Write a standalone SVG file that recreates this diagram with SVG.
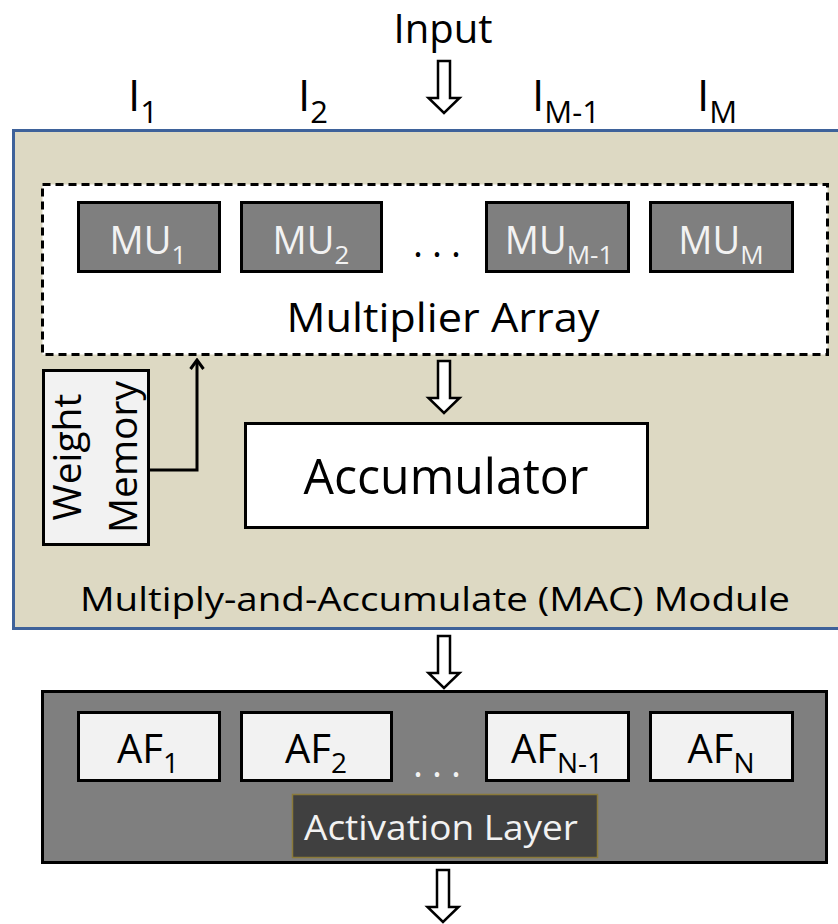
<svg xmlns="http://www.w3.org/2000/svg" width="838" height="924" viewBox="0 0 838 924">
<style>
text{font-family:"Open Sans","Noto Sans","Liberation Sans",sans-serif;}
.blk{fill:#000;}
.wht{fill:#f2f2f2;}
.mu{fill:#7f7f7f;stroke:#000;stroke-width:3;}
.af{fill:#f2f2f2;stroke:#000;stroke-width:3;}
.barrow{fill:#fff;stroke:#000;stroke-width:2.5;stroke-linejoin:miter;}
</style>
<defs>
<path id="blockArrow" d="M -6,0 H 6 V 37 H 15.5 L 0,52 L -15.5,37 H -6 Z"/>
<marker id="chev" viewBox="0 0 14 16" refX="12" refY="8" markerWidth="14" markerHeight="16" markerUnits="userSpaceOnUse" orient="auto">
<path d="M 3,1.5 L 12,8 L 3,14.5" fill="none" stroke="#000" stroke-width="3"/>
</marker>
</defs>
<rect width="838" height="924" fill="#fff"/>

<g id="input-label">
<text x="443" y="43" font-size="40" text-anchor="middle" class="blk">Input</text>
</g>
<g id="input-indices" font-size="44" class="blk">
<text x="128" y="111">I<tspan font-size="31" dy="12">1</tspan></text>
<text x="298" y="111">I<tspan font-size="31" dy="12">2</tspan></text>
<text x="532" y="111">I<tspan font-size="31" dy="12">M-1</tspan></text>
<text x="697" y="111">I<tspan font-size="31" dy="12">M</tspan></text>
</g>

<g id="mac-module">
<rect x="13.5" y="130.5" width="830" height="498" fill="#ddd9c3" stroke="#3e629a" stroke-width="3"/>
<text x="435" y="611" font-size="33" text-anchor="middle" class="blk" textLength="710" lengthAdjust="spacingAndGlyphs">Multiply-and-Accumulate (MAC) Module</text>
</g>

<g id="multiplier-array">
<rect x="42.5" y="184.5" width="785" height="170" fill="#fff" stroke="#000" stroke-width="3" stroke-dasharray="8,5"/>
<text x="443" y="332" font-size="40" text-anchor="middle" class="blk" textLength="313" lengthAdjust="spacingAndGlyphs">Multiplier Array</text>
<text x="437" y="257" font-size="38" text-anchor="middle" class="blk" textLength="48" lengthAdjust="spacing">. . .</text>
</g>
<g id="mu1"><rect class="mu" x="78.5" y="202.5" width="141" height="69"/><text x="148" y="254" font-size="38" text-anchor="middle" class="wht">MU<tspan font-size="26" dy="10">1</tspan></text></g>
<g id="mu2"><rect class="mu" x="241.5" y="202.5" width="140" height="69"/><text x="311" y="254" font-size="38" text-anchor="middle" class="wht">MU<tspan font-size="26" dy="10">2</tspan></text></g>
<g id="mu-m-1"><rect class="mu" x="486.5" y="202.5" width="142" height="69"/><text x="559" y="254" font-size="38" text-anchor="middle" class="wht">MU<tspan font-size="26" dy="10">M-1</tspan></text></g>
<g id="mu-m"><rect class="mu" x="650.5" y="202.5" width="142" height="69"/><text x="721" y="254" font-size="38" text-anchor="middle" class="wht">MU<tspan font-size="26" dy="10">M</tspan></text></g>

<g id="weight-memory">
<rect x="43.5" y="370.5" width="105" height="174" fill="#f2f2f2" stroke="#000" stroke-width="3"/>
<text transform="translate(81,457) rotate(-90)" font-size="39" text-anchor="middle" class="blk">Weight</text>
<text transform="translate(137,457) rotate(-90)" font-size="39" text-anchor="middle" class="blk">Memory</text>
</g>

<g id="accumulator">
<rect x="245.5" y="423.5" width="402" height="104" fill="#fff" stroke="#000" stroke-width="3"/>
<text x="446" y="494" font-size="50" text-anchor="middle" class="blk" textLength="285" lengthAdjust="spacingAndGlyphs">Accumulator</text>
</g>

<g id="activation-layer">
<rect x="42.5" y="691.5" width="784" height="171" fill="#7f7f7f" stroke="#000" stroke-width="3"/>
<text x="437" y="777" font-size="38" text-anchor="middle" class="wht" textLength="48" lengthAdjust="spacing">. . .</text>
<rect x="292.5" y="794.5" width="305" height="63" fill="#404040" stroke="#8a7a3a" stroke-width="1.5"/>
<text x="441" y="840" font-size="34" text-anchor="middle" class="wht" textLength="274" lengthAdjust="spacingAndGlyphs">Activation Layer</text>
</g>
<g id="af1"><rect class="af" x="78.5" y="712.5" width="141" height="68"/><text x="148" y="763" font-size="40" text-anchor="middle" class="blk">AF<tspan font-size="28" dy="10">1</tspan></text></g>
<g id="af2"><rect class="af" x="241.5" y="712.5" width="150" height="68"/><text x="316" y="763" font-size="40" text-anchor="middle" class="blk">AF<tspan font-size="28" dy="10">2</tspan></text></g>
<g id="af-n-1"><rect class="af" x="486.5" y="712.5" width="142" height="68"/><text x="557" y="763" font-size="40" text-anchor="middle" class="blk">AF<tspan font-size="28" dy="10">N-1</tspan></text></g>
<g id="af-n"><rect class="af" x="650.5" y="712.5" width="142" height="68"/><text x="721" y="763" font-size="40" text-anchor="middle" class="blk">AF<tspan font-size="28" dy="10">N</tspan></text></g>

<g id="connectors">
<use href="#blockArrow" class="barrow" x="444" y="61"/>
<use href="#blockArrow" class="barrow" x="444" y="361"/>
<use href="#blockArrow" class="barrow" x="444" y="636"/>
<use href="#blockArrow" class="barrow" x="443" y="870"/>
<path d="M 148,470 H 197 V 360" fill="none" stroke="#000" stroke-width="3" marker-end="url(#chev)"/>
</g>
</svg>
